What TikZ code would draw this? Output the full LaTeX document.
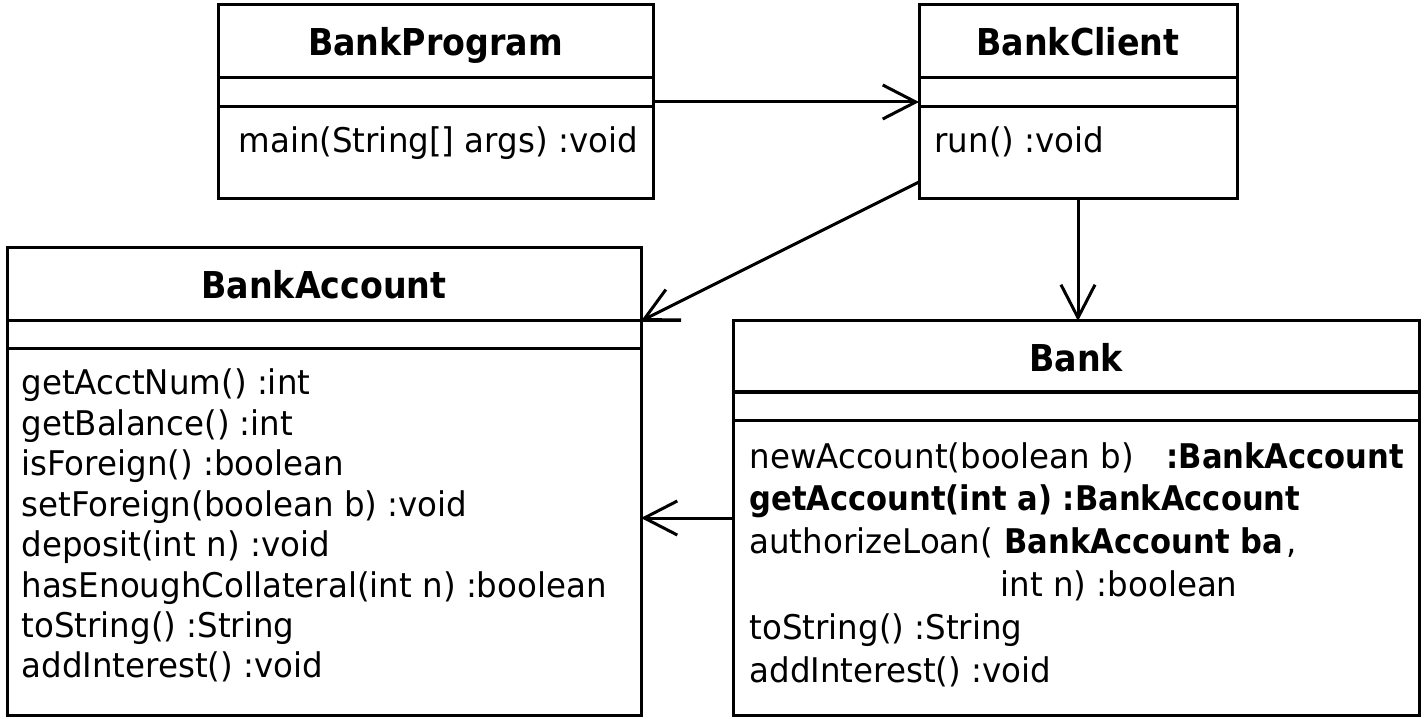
\documentclass[tikz,border=0pt]{standalone}
\usepackage{fontspec}
\setmainfont{DejaVu Sans}[FakeStretch=0.955,BoldFeatures={FakeStretch=0.9}]
\usetikzlibrary{arrows.meta,calc}
\begin{document}
\begin{tikzpicture}[x=1pt,y=-1pt,line width=3pt,
  umlbox/.style={draw,anchor=north west,inner sep=0pt,outer sep=0pt},
  title/.style={anchor=base,inner sep=0pt,font=\fontsize{37}{40}\selectfont\bfseries},
  body/.style={anchor=base west,inner sep=0pt,font=\fontsize{34}{40}\selectfont},
  dep/.style={-{Straight Barb[length=33pt,width=34pt]}}]
\useasboundingbox (0,0) rectangle (1425,719);

% BankProgram
\node[umlbox,minimum width=435pt,minimum height=194pt] (bp) at (218,5) {};
\draw (bp.west |- 0,78) -- (bp.east |- 0,78);
\draw (bp.west |- 0,107) -- (bp.east |- 0,107);
\node[title] (bpt) at (bp.north |- 0,56) {BankProgram};
\node[body] (bpm) at (237,153) {main(String[] args) :void};

% BankClient
\node[umlbox,minimum width=318pt,minimum height=194pt] (bc) at (919,5) {};
\draw (bc.west |- 0,78) -- (bc.east |- 0,78);
\draw (bc.west |- 0,107) -- (bc.east |- 0,107);
\node[title] (bct) at (bc.north |- 0,56) {BankClient};
\node[body] (bcm) at (933,153) {run() :void};

% BankAccount
\node[umlbox,minimum width=634pt,minimum height=467pt] (ba) at (7,248) {};
\coordinate (bastub) at (681,321);
\draw (ba.west |- bastub) -- (bastub);
\draw (ba.west |- 0,349) -- (ba.east |- 0,349);
\node[title] (bat) at (ba.north |- 0,299) {BankAccount};
\foreach \t [count=\i] in {getAcctNum() :int, getBalance() :int, isForeign() :boolean,
  setForeign(boolean b) :void, deposit(int n) :void, hasEnoughCollateral(int n) :boolean,
  toString() :String, addInterest() :void}
  \node[body] (bam\i) at (20,{395+40.4*(\i-1)}) {\t};

% Bank
\node[umlbox,minimum width=686pt,minimum height=394pt] (bank) at (733,321) {};
\draw (bank.west |- 0,392) -- (bank.east |- 0,392);
\draw (bank.west |- 0,420) -- (bank.east |- 0,420);
\node[title] (bankt) at (bank.north |- 0,372) {Bank};
\node[body] (bk1) at (748,468) {newAccount(boolean b)};
\node[body] (bk1r) at (1165,468) {\bfseries :BankAccount};
\node[body] (bk2) at (748,510.8) {\bfseries getAccount(int a) :BankAccount};
\node[body] (bk3) at (748,553.6) {authorizeLoan(};
\node[body] (bk3b) at (1003,553.6) {\textbf{BankAccount ba}\hspace{3pt},};
\node[body] (bk4) at (999,596.4) {int n) :boolean};
\node[body] (bk5) at (748,639.2) {toString() :String};
\node[body] (bk6) at (748,682) {addInterest() :void};

% connectors
\draw[dep] (bp.east) -- (bc.west);
\draw[dep] (bc.south) -- (bc.south |- bank.north);
\draw[dep] ($(bc.south west)+(0,-17)$) -- (ba.east |- bastub);
\draw[dep] (bank.west) -- (bank.west -| ba.east);
\end{tikzpicture}
\end{document}
